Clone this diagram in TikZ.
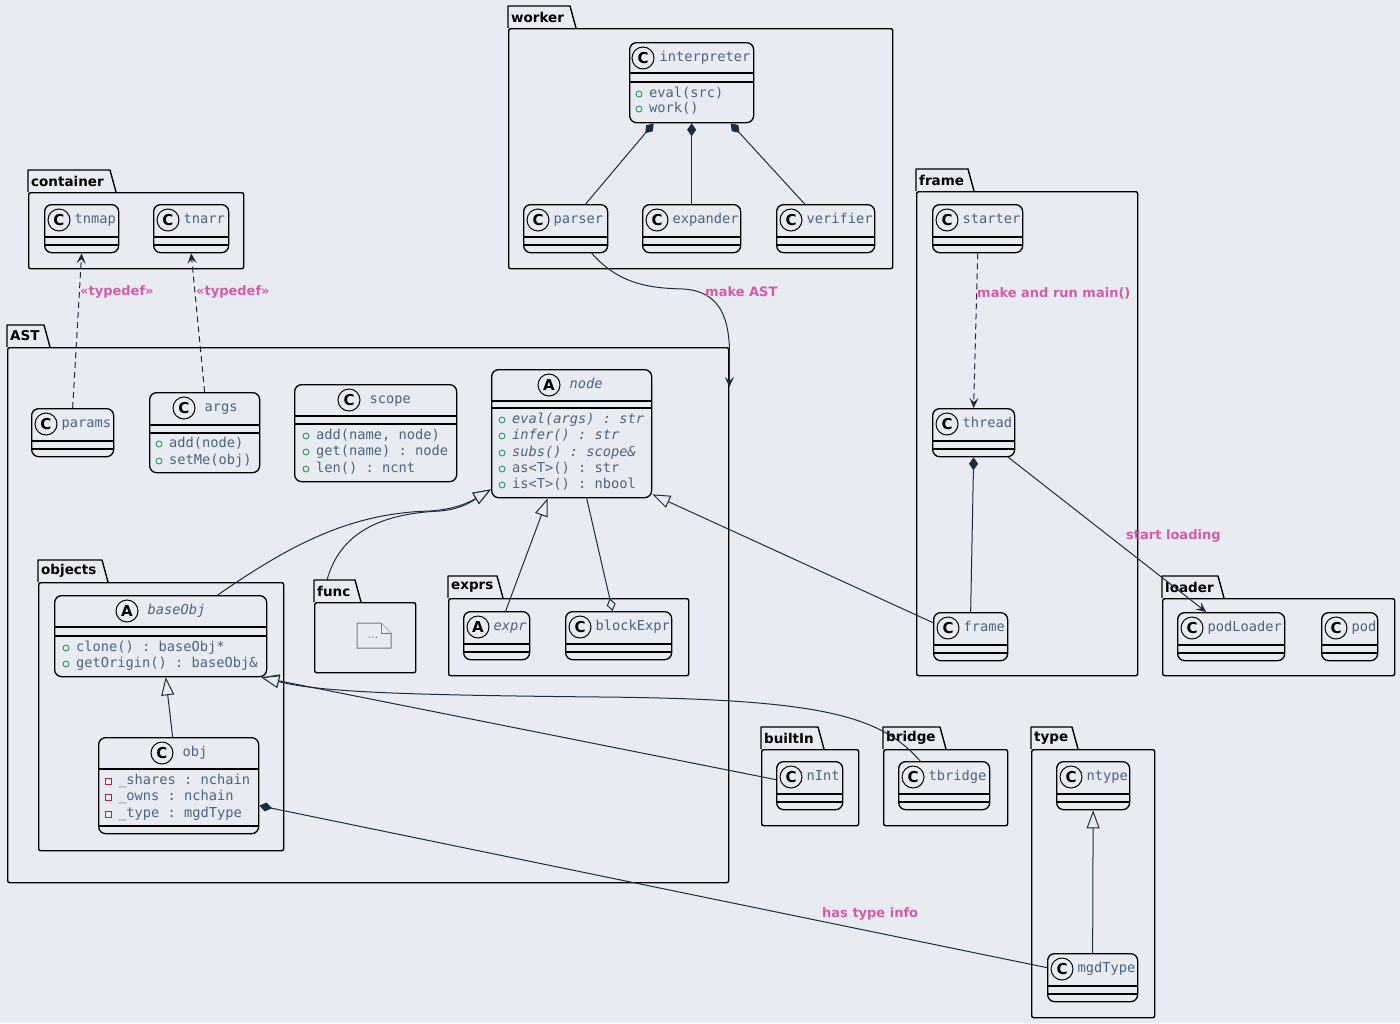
\documentclass[tikz,border=0pt]{standalone}
\usepackage{fontspec}
\setmainfont{DejaVu Sans}
\setmonofont{DejaVu Sans Mono}
\usepackage{tikz}
\usetikzlibrary{arrows.meta,positioning}

\definecolor{canvas}{HTML}{E8EBF1}
\definecolor{ink}{HTML}{1B2D42}
\definecolor{slate}{HTML}{4B6480}
\definecolor{linkpink}{HTML}{D35CA4}
\definecolor{pubgreen}{HTML}{2C9A4C}
\definecolor{privred}{HTML}{C3232B}
\definecolor{notegrey}{HTML}{7A7A7A}

\newcommand{\monosize}{\ttfamily\fontsize{13.7}{16}\selectfont}

\tikzset{
  pkgbody/.style={rectangle, draw=black, line width=1.4pt, rounded corners=2pt,
    anchor=north west, inner sep=0pt},
  pkgline/.style={draw=black, line width=1.4pt, line join=round},
  pkglabel/.style={font=\fontsize{13.5}{15}\selectfont\bfseries, anchor=west,
    inner sep=0pt},
  classbox/.style={rectangle, draw=black, fill=canvas, line width=1.3pt,
    rounded corners=7pt, anchor=north west, inner sep=0pt},
  sepline/.style={draw=black, line width=1.3pt},
  badge/.style={circle, draw=black, line width=1pt, minimum size=22pt,
    inner sep=0pt, font=\fontsize{15}{15}\selectfont\bfseries},
  cname/.style={font=\monosize, text=slate, inner sep=0pt,
    text height=10pt, text depth=3pt},
  member/.style={font=\monosize, text=slate, anchor=west, inner sep=0pt,
    text height=10pt, text depth=3pt},
  pubmark/.style={draw=pubgreen, line width=0.9pt},
  privmark/.style={draw=privred, line width=0.9pt},
  notefold/.style={draw=notegrey, line width=1pt, fill=canvas, line join=round},
  notetext/.style={font=\fontsize{11}{12}\selectfont, text=notegrey, inner sep=0pt},
  % connectors
  link/.style={draw=ink, line width=1pt},
  inherit/.style={link, -{Triangle[length=18pt, width=13pt, fill=canvas]}},
  compo/.style={link, {Diamond[length=13pt, width=9pt]}-},
  aggreg/.style={link, -{Diamond[length=13pt, width=9pt, fill=canvas]}},
  navarrow/.style={link, -{Stealth[length=10pt, width=9pt, inset=4pt]}},
  depend/.style={link, dash pattern=on 6pt off 4pt,
    -{Stealth[length=10pt, width=9pt, inset=4pt]}},
  linklabel/.style={font=\fontsize{13}{15}\selectfont\bfseries, text=linkpink,
    anchor=west, inner sep=0pt},
}

% package: name, left, body top, width, height, tab width, label
\newcommand{\umlpackage}[7]{%
  \node[pkgbody, minimum width=#4pt, minimum height=#5pt] (#1) at (#2,#3) {};
  \draw[pkgline] (#1.north west) -- ++(0,-22) -- ++(#6-6,0) -- ++(6,22);
  \node[pkglabel] (#1-label) at ([xshift=3pt,yshift=11pt]#1.north west) {#7};}
% class: [gap] name, left, top, width, height, letter, title, badge offset
\newcommand{\umlclass}[9][9]{%
  \node[classbox, minimum width=#5pt, minimum height=#6pt] (#2) at (#3,#4) {};
  \node[badge] (#2-badge) at ([xshift=#9pt,yshift=-16pt]#2.north west) {#7};
  \node[cname, right=#1pt of #2-badge] (#2-title) {#8};}
\newcommand{\classsep}[2]{%
  \draw[sepline] ([yshift=-#2pt]#1.north west) -- ([yshift=-#2pt]#1.north east);}
\newcommand{\miniclass}[6]{%
  \umlclass[4]{#1}{#2}{#3}{#4}{48}{#5}{#6}{15}\classsep{#1}{33}\classsep{#1}{41}}
\newcommand{\pubop}[4]{%
  \draw[pubmark] (#2-10,#3) circle (3pt);
  \node[member] (#1) at (#2,#3) {#4};}
\newcommand{\privattr}[4]{%
  \draw[privmark] (#2-13,#3-3) rectangle ++(6,6);
  \node[member] (#1) at (#2,#3) {#4};}

\begin{document}
\begin{tikzpicture}[x=1pt, y=-1pt]
\useasboundingbox[fill=canvas] (0,0) rectangle (1400,1023);

% Packages
\umlpackage{pkg-worker}{508}{28}{384}{240}{68}{worker}
\umlpackage{pkg-container}{28}{192}{215}{76}{88}{container}
\umlpackage{pkg-ast}{7}{347}{721}{535}{43}{AST}
\umlpackage{pkg-objects}{38}{582}{245}{268}{70}{objects}
\umlpackage{pkg-func}{314}{602}{101}{70}{47}{func}
\umlpackage{pkg-exprs}{448}{598}{240}{77}{55}{exprs}
\umlpackage{pkg-frame}{916}{191}{221}{484}{58}{frame}
\umlpackage{pkg-loader}{1162}{598}{232}{77}{62}{loader}
\umlpackage{pkg-builtin}{761}{749}{97}{76}{63}{builtIn}
\umlpackage{pkg-bridge}{883}{749}{124}{76}{63}{bridge}
\umlpackage{pkg-type}{1031}{749}{123}{268}{47}{type}

% worker
\umlclass[5]{interp}{629}{42}{124}{80}{C}{interpreter}{14}
\classsep{interp}{31}\classsep{interp}{40}
\pubop{interp-m1}{649}{94}{eval(src)}
\pubop{interp-m2}{649}{109}{work()}
\miniclass{parser}{523}{204}{84}{C}{parser}
\miniclass{expander}{642}{204}{98}{C}{expander}
\miniclass{verifier}{776}{204}{98}{C}{verifier}

% container
\miniclass{tnmap}{44}{204}{74}{C}{tnmap}
\miniclass{tnarr}{153}{204}{75}{C}{tnarr}

% AST
\miniclass{params}{31}{408}{82}{C}{params}
\umlclass{args}{149}{392}{110}{80}{C}{args}{35}
\classsep{args}{33}\classsep{args}{41}
\pubop{args-m1}{169}{444}{add(node)}
\pubop{args-m2}{169}{461}{setMe(obj)}
\umlclass{scopeCls}{294}{384}{162}{97}{C}{scope}{55}
\classsep{scopeCls}{32}\classsep{scopeCls}{40}
\pubop{scope-m1}{316}{436}{add(name, node)}
\pubop{scope-m2}{316}{452}{get(name) : node}
\pubop{scope-m3}{316}{469}{len() : ncnt}
\umlclass{nodeCls}{491}{369}{160}{128}{A}{\textit{node}}{58}
\classsep{nodeCls}{32}\classsep{nodeCls}{39}
\pubop{node-m1}{512}{420}{\textit{eval(args) : str}}
\pubop{node-m2}{512}{436}{\textit{infer() : str}}
\pubop{node-m3}{512}{453}{\textit{subs() : scope\&}}
\pubop{node-m4}{512}{469}{as<T>() : str}
\pubop{node-m5}{512}{485}{is<T>() : nbool}

% objects
\umlclass{baseObj}{54}{595}{212}{81}{A}{\textit{baseObj}}{73}
\classsep{baseObj}{32}\classsep{baseObj}{41}
\pubop{baseObj-m1}{76}{648}{clone() : baseObj*}
\pubop{baseObj-m2}{76}{664}{getOrigin() : baseObj\&}
\umlclass{obj}{98}{737}{160}{96}{C}{obj}{64}
\classsep{obj}{32}\classsep{obj}{89}
\privattr{obj-f1}{118}{781}{\_shares : nchain}
\privattr{obj-f2}{118}{797}{\_owns : nchain}
\privattr{obj-f3}{118}{814}{\_type : mgdType}

% func
\draw[notefold] (357,623) -- (381,623) -- (391,633) -- (391,648) -- (357,648) -- cycle;
\draw[notefold] (381,623) -- (381,633) -- (391,633);
\node[notetext] (func-dots) at (373,638) {...};

% exprs
\miniclass{expr}{463}{611}{66}{A}{\textit{expr}}
\miniclass{blockExpr}{565}{611}{106}{C}{blockExpr}

% frame, loader, builtIn, bridge, type
\miniclass{starter}{932}{204}{90}{C}{starter}
\miniclass{thread}{932}{408}{82}{C}{thread}
\miniclass{frameCls}{933}{612}{74}{C}{frame}
\miniclass{podLoader}{1177}{612}{107}{C}{podLoader}
\miniclass{pod}{1321}{612}{56}{C}{pod}
\miniclass{nInt}{776}{761}{66}{C}{nInt}
\miniclass{tbridge}{898}{761}{91}{C}{tbridge}
\miniclass{ntype}{1056}{761}{73}{C}{ntype}
\miniclass{mgdType}{1047}{953}{90}{C}{mgdType}

% Connectors
\draw[compo] ([xshift=-38pt]interp.south) -- ([xshift=20pt]parser.north);
\draw[compo] (interp.south) -- (expander.north);
\draw[compo] ([xshift=39pt]interp.south) -- ([xshift=-21pt]verifier.north);

\coordinate (ast-entry) at ([yshift=-40pt]pkg-ast.north east);
\draw[navarrow] ([xshift=26pt]parser.south) .. controls (620,285) and (650,288) .. (683,289)
  .. controls (718,291) and (728,315) .. (pkg-ast.north east) -- (ast-entry);
\node[linklabel] (lbl-ast) at (705,292) {make AST};

\draw[depend] (params.north) -- (tnmap.south);
\draw[depend] (args.north) -- (tnarr.south);
\node[linklabel] (lbl-typedef1) at (80,292) {«typedef»};
\node[linklabel] (lbl-typedef2) at (196,292) {«typedef»};

\draw[inherit] ([xshift=57pt]baseObj.north) .. controls (290,545) and (350,513) .. (430,511)
  .. controls (462,509) and (478,497) .. ([yshift=9pt]nodeCls.south west);
\draw[inherit] ([xshift=13pt,yshift=22pt]pkg-func.north west) .. controls (338,540) and (370,514) .. (440,511)
  .. controls (465,509) and (478,497) .. ([yshift=9pt]nodeCls.south west);
\draw[inherit] ([xshift=9pt]expr.north) -- ([xshift=-24pt]nodeCls.south);
\draw[aggreg] ([xshift=15pt]nodeCls.south) -- ([xshift=-6pt]blockExpr.north);
\draw[inherit] ([yshift=14pt]frameCls.west) -- ([yshift=4pt]nodeCls.south east);

\draw[inherit] ([xshift=-6pt]obj.north) -- ([xshift=5pt]baseObj.south);
\coordinate (baseObj-tip) at ([xshift=-6pt]baseObj.south east);
\draw[inherit] ([yshift=6pt]nInt.west) -- (baseObj-tip);
\draw[inherit] ([xshift=-24pt]tbridge.north) .. controls (880,715) and (820,699) .. (600,697)
  .. controls (400,695) and (320,692) .. (baseObj-tip);
\draw[compo] ([yshift=-20pt]obj.east) -- ([yshift=10pt]mgdType.west);
\node[linklabel] (lbl-type) at (822,914) {has type info};
\draw[inherit] (mgdType.north) -- (ntype.south);

\draw[depend] (starter.south) -- (thread.north);
\node[linklabel] (lbl-main) at (977,293) {make and run main()};
\draw[compo] (thread.south) -- (frameCls.north);
\draw[navarrow] ([xshift=-7pt]thread.south east) -- ([xshift=-25pt]podLoader.north);
\node[linklabel] (lbl-load) at (1126,536) {start loading};

\end{tikzpicture}
\end{document}
